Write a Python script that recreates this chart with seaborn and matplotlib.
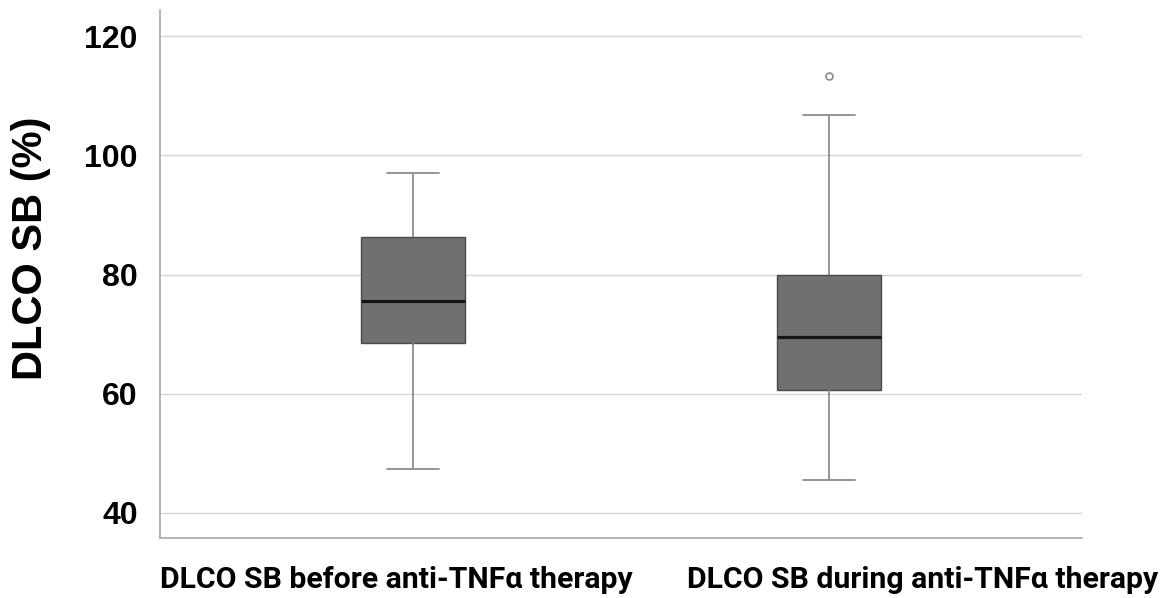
import numpy as np
import pandas as pd
import seaborn as sns
import matplotlib.pyplot as plt
import matplotlib.transforms as mtransforms

groups = ["DLCO SB before anti-TNFα therapy", "DLCO SB during anti-TNFα therapy"]
before_vals = [47.4, 68.5, 75.5, 86.3, 97.0]
during_vals = [45.5, 60.7, 60.7, 69.5, 69.5, 80.0, 80.0, 106.7, 113.3]
y_ticks = [40, 60, 80, 100, 120]

df = pd.DataFrame({
    "group": [groups[0]] * len(before_vals) + [groups[1]] * len(during_vals),
    "dlco": before_vals + during_vals,
})

sns.set_style("white")
plt.rcParams["font.family"] = ["Liberation Sans", "DejaVu Sans"]

fig = plt.figure(figsize=(11.7, 5.98), dpi=100)
ax = fig.add_axes([160 / 1170, 1 - 538 / 598, 922 / 1170, 528 / 598])

sns.boxplot(
    data=df, x="group", y="dlco", ax=ax, width=0.25, whis=1.5,
    color="#707070", linecolor="#8c8c8c", linewidth=1.3,
    boxprops={"facecolor": "#707070", "edgecolor": "#4a4a4a", "linewidth": 1.0},
    medianprops={"color": "#151515", "linewidth": 2.3},
    whiskerprops={"color": "#8c8c8c", "linewidth": 1.3},
    capprops={"color": "#8c8c8c", "linewidth": 1.3},
    flierprops={"marker": "o", "markersize": 5, "markerfacecolor": "white",
                "markeredgecolor": "#8c8c8c", "markeredgewidth": 1.2},
    zorder=3,
)

ax.set_xlim(-0.608, 1.608)
ax.set_ylim(35.8, 124.4)
ax.set_yticks(y_ticks)
ax.yaxis.grid(True, color="#d6d6d6", linewidth=1.0, zorder=0)
ax.set_axisbelow(True)

for side in ["top", "right"]:
    ax.spines[side].set_visible(False)
for side in ["left", "bottom"]:
    ax.spines[side].set_color("#a8a8a8")
    ax.spines[side].set_linewidth(1.2)

ax.tick_params(axis="both", length=0, labelcolor="black")
ax.tick_params(axis="y", pad=16)
ax.tick_params(axis="x", pad=20)
for lab in ax.get_yticklabels():
    lab.set_fontsize(23)
    lab.set_fontweight("bold")

ax.set_xlabel("")
ax.set_xticks([0, 1])
ax.set_xticklabels(groups)
shifts = [-17, 94]
for lab, dx in zip(ax.get_xticklabels(), shifts):
    lab.set_family(["Roboto", "DejaVu Sans"])
    lab.set_fontsize(21.8)
    lab.set_fontweight("bold")
    lab.set_transform(lab.get_transform() + mtransforms.ScaledTranslation(dx / 100, 0, fig.dpi_scale_trans))

ax.set_ylabel("DLCO SB (%)", fontsize=30, fontweight="bold", color="black")
ax.yaxis.set_label_coords(-0.118, 0.549)

fig.savefig("out.png", dpi=100)
